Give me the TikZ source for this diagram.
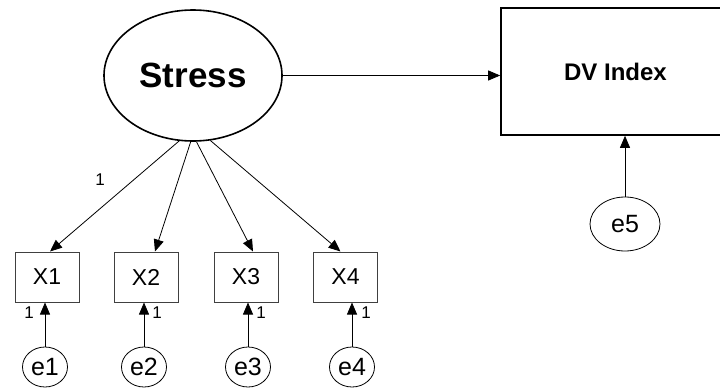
\documentclass[tikz,border=0pt]{standalone}
\usepackage{fontspec}
\setmainfont{Liberation Sans}
\usetikzlibrary{arrows.meta,shapes.geometric}

\tikzset{
  latent/.style={draw, ellipse, line width=1.6pt, inner sep=0pt,
    minimum width=178pt, minimum height=131pt,
    font=\fontsize{35}{38}\selectfont\bfseries},
  outcome/.style={draw, rectangle, line width=1.6pt, inner sep=0pt,
    minimum width=229pt, minimum height=127pt,
    font=\fontsize{24}{26}\selectfont\bfseries},
  indicator/.style={draw=black!75, rectangle, line width=1pt, inner sep=0pt,
    minimum width=64pt, minimum height=50pt,
    font=\fontsize{23}{25}\selectfont},
  errterm/.style={draw, ellipse, line width=0.8pt, inner sep=0pt,
    minimum width=45pt, minimum height=40pt,
    font=\fontsize{25}{27}\selectfont},
  bigerr/.style={draw, ellipse, line width=0.8pt, inner sep=0pt,
    minimum width=70pt, minimum height=54pt,
    font=\fontsize{25}{27}\selectfont},
  path/.style={line width=0.8pt, -{Triangle[length=12pt,width=10pt]}},
  coef/.style={inner sep=0pt, font=\fontsize{17}{19}\selectfont}
}

\begin{document}
\begin{tikzpicture}[x=1pt, y=-1pt]
\useasboundingbox (0,0) rectangle (720,388);

% latent factor and outcome
\node[latent] (stress) at (193,75.5) {Stress};
\node[outcome] (dv) at (615.5,71.5) {DV Index};

% indicators
\node[indicator] (x1) at (47,277) {X1};
\node[indicator] (x2) at (146,277) {X2};
\node[indicator] (x3) at (246,277) {X3};
\node[indicator] (x4) at (345.5,277) {X4};

% error terms
\node[errterm] (e1) at (45,367) {e1};
\node[errterm] (e2) at (144,367) {e2};
\node[errterm] (e3) at (248,367) {e3};
\node[errterm] (e4) at (352,367) {e4};
\node[bigerr] (e5) at (625,224) {e5};

% structural path
\draw[path] (stress.east) -- (stress.east -| dv.west);

% loadings
\draw[path] (stress.258.7) -- ([xshift=3pt]x1.north);
\draw[path] (stress.268.3) -- ([xshift=9pt]x2.north);
\draw[path] (stress.273.5) -- ([xshift=7pt]x3.north);
\draw[path] (stress.285.7) -- ([xshift=-5pt]x4.north);

% residual paths
\draw[path] (e1.north) -- (e1.north |- x1.south);
\draw[path] (e2.north) -- (e2.north |- x2.south);
\draw[path] (e3.north) -- (e3.north |- x3.south);
\draw[path] (e4.north) -- (e4.north |- x4.south);
\draw[path] (e5.north) -- (e5.north |- dv.south);

% fixed coefficients
\node[coef] (l1) at (100,180) {1};
\node[coef] (r1) at (29,313) {1};
\node[coef] (r2) at (157,313) {1};
\node[coef] (r3) at (261,313) {1};
\node[coef] (r4) at (366,313) {1};
\end{tikzpicture}
\end{document}
